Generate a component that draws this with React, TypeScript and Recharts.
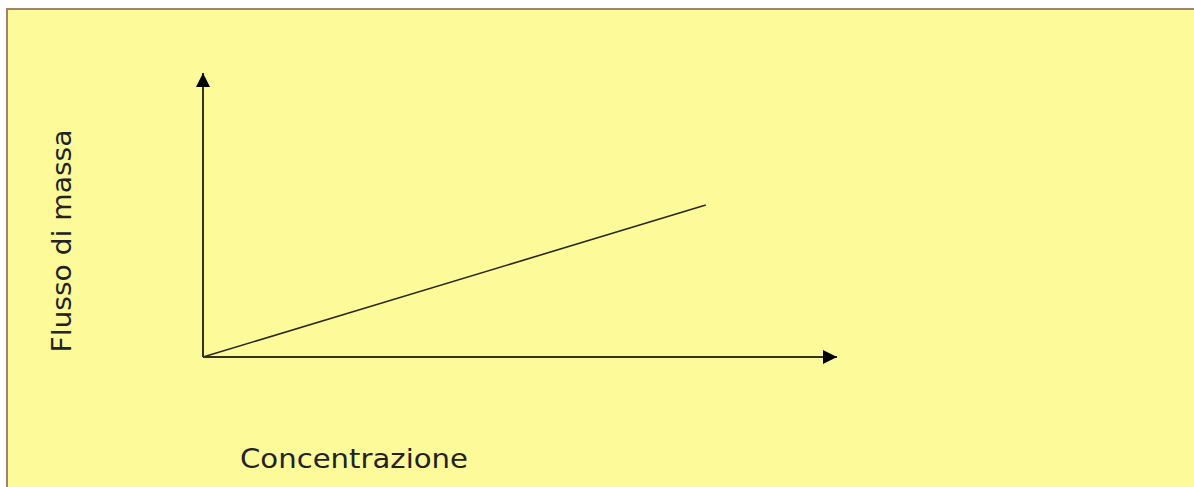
import React from 'react';
import { LineChart, Line, XAxis, YAxis, ReferenceDot, Label } from 'recharts';

const concentrazione = [0, 7.93];
const flussoDiMassa = [0, 5.35];
const axisMax = 10;
const xLabel = 'Concentrazione';
const yLabel = 'Flusso di  massa';

const data = concentrazione.map((c, i) => ({ c, f: flussoDiMassa[i] }));

const INK = '#34331f';

const ArrowRight = (p: any) => (
  <polygon points={`${p.cx},${p.cy} ${p.cx - 14},${p.cy - 7} ${p.cx - 14},${p.cy + 7}`} fill="#000" />
);
const ArrowUp = (p: any) => (
  <polygon points={`${p.cx},${p.cy} ${p.cx - 7},${p.cy + 14} ${p.cx + 7},${p.cy + 14}`} fill="#000" />
);

export default function App() {
  return (
    <div style={{ position: 'absolute', left: 0, top: 0, width: 1194, height: 487, background: '#fff', overflow: 'hidden' }}>
      <div
        style={{
          position: 'absolute', left: 6, top: 8, width: 1194, height: 487,
          background: '#fdfb99', borderLeft: '2px solid #a3806f', borderTop: '2px solid #a3806f',
        }}
      />
      <div style={{ position: 'absolute', left: 0, top: 0 }}>
        <LineChart width={1194} height={487} data={data} margin={{ top: 73, right: 357, bottom: 100, left: 143 }}>
          <XAxis
            type="number" dataKey="c" domain={[0, axisMax]} height={30}
            tick={false} tickLine={false} axisLine={{ stroke: INK, strokeWidth: 2 }}
          >
            <Label
              content={() => (
                <text x={354} y={468} textAnchor="middle" fontFamily="DejaVu Sans" fontSize={27} fill="#222" textLength={228} lengthAdjust="spacingAndGlyphs">
                  {xLabel}
                </text>
              )}
            />
          </XAxis>
          <YAxis
            type="number" domain={[0, axisMax]} width={60}
            tick={false} tickLine={false} axisLine={{ stroke: INK, strokeWidth: 2 }}
          >
            <Label
              content={() => (
                <text x={71} y={241} transform="rotate(-90, 71, 241)" textAnchor="middle" fontFamily="DejaVu Sans" fontSize={27} fill="#222" textLength={223} lengthAdjust="spacingAndGlyphs">
                  {yLabel}
                </text>
              )}
            />
          </YAxis>
          <Line type="linear" dataKey="f" stroke="#2a2918" strokeWidth={1.6} dot={false} isAnimationActive={false} />
          <ReferenceDot x={axisMax} y={0} r={0} shape={ArrowRight} ifOverflow="visible" />
          <ReferenceDot x={0} y={axisMax} r={0} shape={ArrowUp} ifOverflow="visible" />
        </LineChart>
      </div>
    </div>
  );
}
